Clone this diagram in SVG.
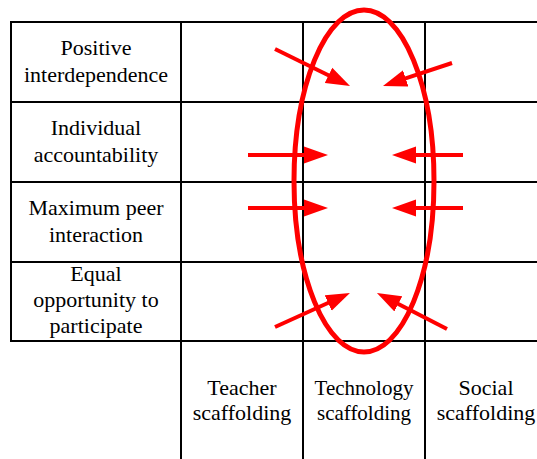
<svg xmlns="http://www.w3.org/2000/svg" width="537" height="459" viewBox="0 0 537 459">
  <style>
    .grid { stroke: #000; stroke-width: 2; fill: none; }
    .lbl { font-family: 'Liberation Serif', 'DejaVu Serif', Tinos, serif; font-size: 22px; fill: #000; text-anchor: middle; }
    .arr { stroke: #ff0000; stroke-width: 4; fill: none; marker-end: url(#head); }
    .oval { stroke: #ff0000; stroke-width: 5; fill: none; }
  </style>
  <defs>
    <marker id="head" markerUnits="userSpaceOnUse" markerWidth="26" markerHeight="18" viewBox="0 -9 26 18" refX="1" refY="0" orient="auto">
      <path d="M0,-8.5 L24,0 L0,8.5 Z" fill="#ff0000"/>
    </marker>
  </defs>
  <rect width="537" height="459" fill="#fff"/>
  <g id="table" class="grid">
    <line x1="11" y1="22" x2="537" y2="22"/>
    <line x1="11" y1="102" x2="537" y2="102"/>
    <line x1="11" y1="182" x2="537" y2="182"/>
    <line x1="11" y1="262" x2="537" y2="262"/>
    <line x1="11" y1="341" x2="537" y2="341"/>
    <line x1="11" y1="21" x2="11" y2="342"/>
    <line x1="181" y1="21" x2="181" y2="459"/>
    <line x1="303" y1="21" x2="303" y2="459"/>
    <line x1="425" y1="21" x2="425" y2="459"/>
  </g>
  <g id="row-positive" font-family="Liberation Serif">
    <text class="lbl" x="96" y="55">Positive</text>
    <text class="lbl" x="96" y="82">interdependence</text>
  </g>
  <g id="row-individual">
    <text class="lbl" x="96" y="135">Individual</text>
    <text class="lbl" x="96" y="162">accountability</text>
  </g>
  <g id="row-maximum">
    <text class="lbl" x="96" y="215">Maximum peer</text>
    <text class="lbl" x="96" y="242">interaction</text>
  </g>
  <g id="row-equal">
    <text class="lbl" x="96" y="281">Equal</text>
    <text class="lbl" x="96" y="307">opportunity to</text>
    <text class="lbl" x="96" y="333">participate</text>
  </g>
  <g id="col-teacher">
    <text class="lbl" x="242" y="395">Teacher</text>
    <text class="lbl" x="242" y="420">scaffolding</text>
  </g>
  <g id="col-technology">
    <text class="lbl" x="364" y="395" style="font-size:21px">Technology</text>
    <text class="lbl" x="364" y="420" style="font-size:21px">scaffolding</text>
  </g>
  <g id="col-social">
    <text class="lbl" x="486" y="395">Social</text>
    <text class="lbl" x="486" y="420">scaffolding</text>
  </g>
  <g id="highlight">
    <ellipse class="oval" cx="364" cy="181" rx="70" ry="171"/>
  </g>
  <g id="connectors">
    <line class="arr" x1="275" y1="49" x2="329.4" y2="75.8"/>
    <line class="arr" x1="452" y1="63" x2="404.8" y2="78.7"/>
    <line class="arr" x1="248" y1="155" x2="305" y2="155"/>
    <line class="arr" x1="463" y1="155" x2="415" y2="155"/>
    <line class="arr" x1="248" y1="208" x2="305" y2="208"/>
    <line class="arr" x1="463" y1="208" x2="415" y2="208"/>
    <line class="arr" x1="275" y1="327" x2="329" y2="302.5"/>
    <line class="arr" x1="447" y1="329" x2="397.4" y2="303.5"/>
  </g>
</svg>
